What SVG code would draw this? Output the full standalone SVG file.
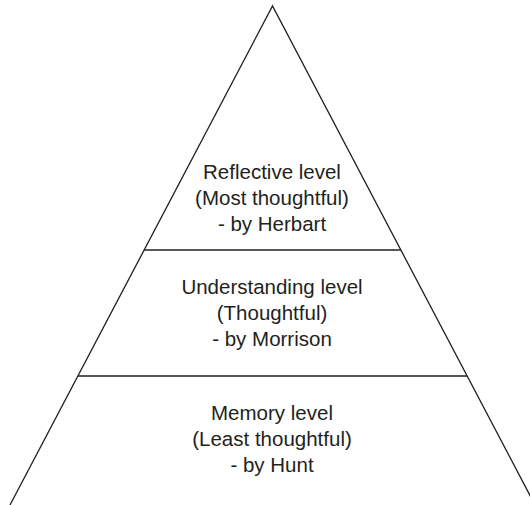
<svg xmlns="http://www.w3.org/2000/svg" width="530" height="505" viewBox="0 0 530 505">
<style>
.edge{stroke:#231f20;stroke-width:1.3;fill:none}
.t{font-family:"Liberation Sans",Arial,sans-serif;font-size:20.5px;fill:#231f20;text-anchor:middle}
</style>
<rect width="530" height="505" fill="#fff"/>
<g id="connectors">
<path class="edge" d="M10,505 L272.5,6 L535,505"/>
<line class="edge" x1="144" y1="250" x2="401" y2="250"/>
<line class="edge" x1="78" y1="376" x2="467" y2="376"/>
</g>
<g id="reflective">
<text class="t" x="272" y="179">Reflective level</text>
<text class="t" x="272" y="205">(Most thoughtful)</text>
<text class="t" x="272" y="231">- by Herbart</text>
</g>
<g id="understanding">
<text class="t" x="272" y="294">Understanding level</text>
<text class="t" x="272" y="320">(Thoughtful)</text>
<text class="t" x="272" y="346">- by Morrison</text>
</g>
<g id="memory">
<text class="t" x="272" y="420">Memory level</text>
<text class="t" x="272" y="446">(Least thoughtful)</text>
<text class="t" x="272" y="472">- by Hunt</text>
</g>
</svg>
